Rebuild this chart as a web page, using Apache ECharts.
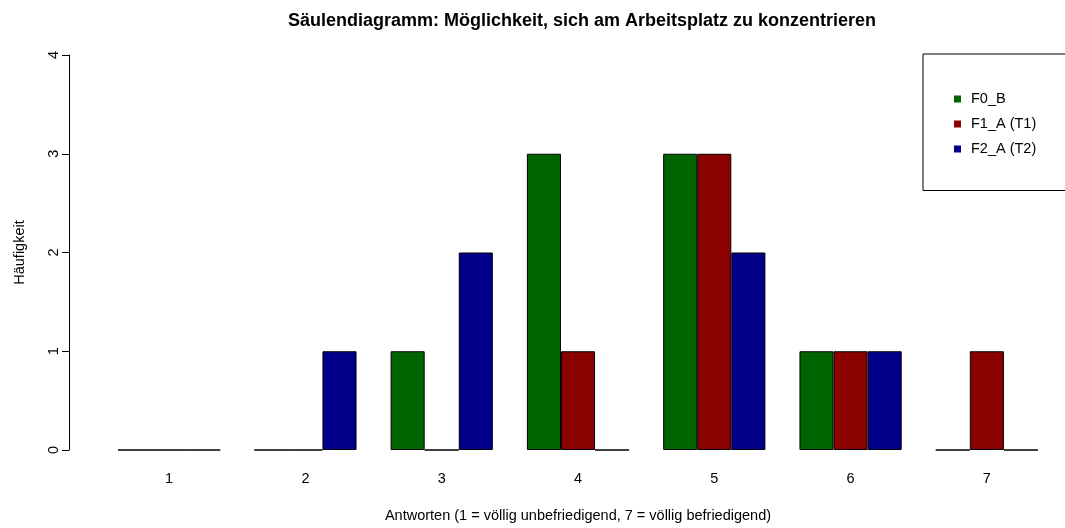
<!DOCTYPE html>
<html>
<head>
<meta charset="utf-8">
<script src="https://cdn.jsdelivr.net/npm/echarts@6/dist/echarts.min.js"></script>
<style>
  html, body { margin: 0; padding: 0; background: #fff; }
  #chart { width: 1065px; height: 528px; }
</style>
</head>
<body>
<div id="chart"></div>
<script>
// Antwortkategorien 1..7 und Häufigkeiten je Gruppe
const categories = ['1', '2', '3', '4', '5', '6', '7'];
const seriesNames = ['F0_B', 'F1_A (T1)', 'F2_A (T2)'];
const valuesF0B = [0, 0, 1, 3, 3, 1, 0];
const valuesF1A = [0, 0, 0, 1, 3, 1, 1];
const valuesF2A = [0, 1, 2, 0, 2, 1, 0];
const yTicks = [0, 1, 2, 3, 4];

const colors = ['#006400', '#8B0000', '#00008B'];
const allValues = [valuesF0B, valuesF1A, valuesF2A];
const font = 'Liberation Sans, Arial, Helvetica, sans-serif';

const chart = echarts.init(document.getElementById('chart'), null, { renderer: 'canvas' });

chart.setOption({
  animation: false,
  backgroundColor: '#ffffff',
  title: {
    text: 'Säulendiagramm: Möglichkeit, sich am Arbeitsplatz zu konzentrieren',
    left: 577,
    top: 7,
    textAlign: 'center',
    textStyle: { fontFamily: font, fontSize: 18, fontWeight: 'bold', color: '#000' }
  },
  legend: {
    orient: 'vertical',
    left: 923,
    top: 54,
    padding: [37.5, 60, 34, 31],
    borderColor: '#000',
    borderWidth: 1,
    itemWidth: 7,
    itemHeight: 7,
    itemGap: 10,
    icon: 'rect',
    data: seriesNames,
    itemStyle: { borderWidth: 0 },
    textStyle: { fontFamily: font, fontSize: 14.5, color: '#000', lineHeight: 15, padding: [0, 0, 0, 5] }
  },
  grid: {
    left: 101,
    top: 55,
    width: 954,
    height: 396,
    containLabel: false
  },
  xAxis: {
    type: 'category',
    data: categories,
    name: 'Antworten (1 = völlig unbefriedigend, 7 = völlig befriedigend)',
    nameLocation: 'middle',
    nameGap: 58,
    nameTextStyle: { fontFamily: font, fontSize: 14.5, color: '#000' },
    axisLine: { show: false },
    axisTick: { show: false },
    axisLabel: { fontFamily: font, fontSize: 14.5, color: '#000', margin: 21 },
    splitLine: { show: false }
  },
  yAxis: {
    type: 'value',
    min: yTicks[0],
    max: yTicks[yTicks.length - 1],
    interval: 1,
    offset: 32,
    name: 'Häufigkeit',
    nameLocation: 'middle',
    nameGap: 42,
    nameRotate: 90,
    nameTextStyle: { fontFamily: font, fontSize: 14.5, color: '#000' },
    axisLine: { show: true, lineStyle: { color: '#000', width: 1 } },
    axisTick: { show: true, length: 7, lineStyle: { color: '#000' } },
    axisLabel: { fontFamily: font, fontSize: 14.5, color: '#000', rotate: 90, margin: 8 },
    splitLine: { show: false }
  },
  series: seriesNames.map((name, i) => ({
    name: name,
    type: 'bar',
    data: allValues[i],
    barGap: '0%',
    barCategoryGap: '25%',
    itemStyle: { color: colors[i], borderColor: '#000', borderWidth: 1 }
  }))
});
</script>
</body>
</html>
